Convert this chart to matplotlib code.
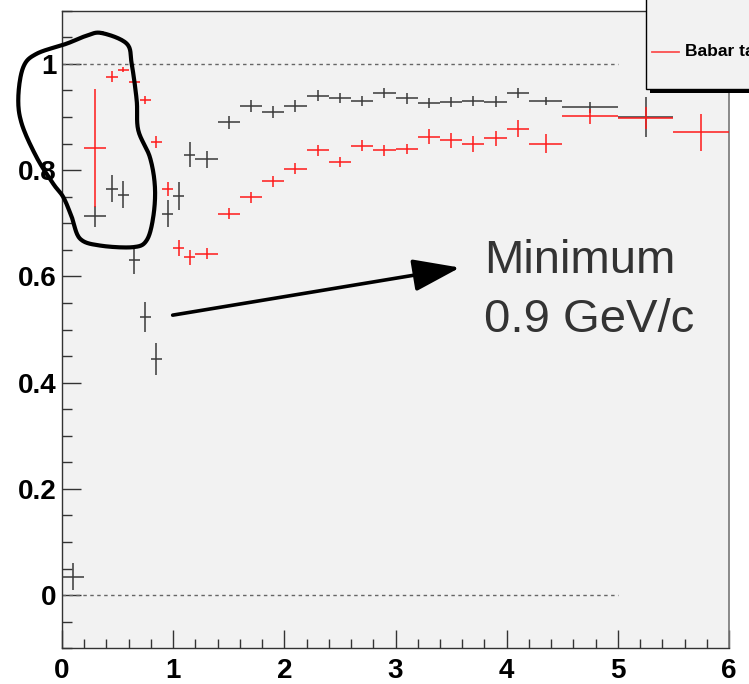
import matplotlib
matplotlib.use('Agg')
import matplotlib.pyplot as plt
import numpy as np
from matplotlib import font_manager
from matplotlib.lines import Line2D
from matplotlib.patches import Rectangle
from matplotlib.ticker import MultipleLocator, FixedLocator, FixedFormatter

# bins (centre, half width)
X_CENTER = [0.1, 0.3, 0.45, 0.55, 0.65, 0.75, 0.85, 0.95, 1.05, 1.15,
            1.3, 1.5, 1.7, 1.9, 2.1, 2.3, 2.5, 2.7, 2.9, 3.1, 3.3, 3.5,
            3.7, 3.9, 4.1, 4.35, 4.75, 5.25, 5.75]
X_HALF = [0.1, 0.1, 0.05, 0.05, 0.05, 0.05, 0.05, 0.05, 0.05, 0.05,
          0.1, 0.1, 0.1, 0.1, 0.1, 0.1, 0.1, 0.1, 0.1, 0.1, 0.1, 0.1,
          0.1, 0.1, 0.1, 0.15, 0.25, 0.25, 0.25]

# black series
BLACK_Y = [0.035, 0.713, 0.765, 0.754, 0.630, 0.524, 0.444, 0.718, 0.751, 0.829,
           0.820, 0.890, 0.921, 0.909, 0.920, 0.940, 0.936, 0.930, 0.945, 0.935,
           0.926, 0.928, 0.930, 0.929, 0.945, 0.930, 0.918, 0.900, np.nan]
BLACK_ERR = [0.025, 0.020, 0.025, 0.025, 0.025, 0.028, 0.030, 0.025, 0.027, 0.023,
             0.016, 0.012, 0.011, 0.011, 0.011, 0.010, 0.010, 0.010, 0.010, 0.010,
             0.010, 0.010, 0.010, 0.010, 0.010, 0.008, 0.010, 0.038, np.nan]

# red series (Babar table)
RED_Y = [np.nan, 0.842, 0.976, 0.989, 0.965, 0.932, 0.853, 0.765, 0.654, 0.636,
         0.643, 0.718, 0.749, 0.779, 0.803, 0.837, 0.815, 0.846, 0.837, 0.840,
         0.863, 0.856, 0.850, 0.860, 0.878, 0.850, 0.901, 0.898, 0.871]
RED_ERR = [np.nan, 0.111, 0.010, 0.005, 0.006, 0.008, 0.011, 0.013, 0.015, 0.014,
           0.010, 0.010, 0.010, 0.010, 0.010, 0.010, 0.010, 0.010, 0.010, 0.010,
           0.014, 0.014, 0.015, 0.014, 0.016, 0.018, 0.014, 0.020, 0.035]

Y_TICKS = [0, 0.2, 0.4, 0.6, 0.8, 1.0]
Y_TICK_LABELS = ['0', '0.2', '0.4', '0.6', '0.8', '1']
X_TICKS = [0, 1, 2, 3, 4, 5, 6]

# hand-drawn loop around the low-momentum points (data coords)
LOOP_X = [0.357, 0.582, 0.627, 0.672, 0.686, 0.791, 0.836, 0.821, 0.762, 0.641,
          0.342, 0.162, 0.087, 0.012, -0.078, -0.228, -0.362, -0.393, -0.348,
          -0.228, 0.042, 0.222]
LOOP_Y = [1.058, 1.038, 1.000, 0.931, 0.875, 0.824, 0.768, 0.712, 0.668, 0.655,
          0.658, 0.671, 0.712, 0.749, 0.774, 0.824, 0.887, 0.937, 0.994,
          1.019, 1.038, 1.053]

FRAME_BG = '#f2f2f2'
INK = '#333333'
RED = '#ff1a1a'


def pick_font(names):
    have = {f.name for f in font_manager.fontManager.ttflist}
    for n in names:
        if n in have:
            return n
    return 'DejaVu Sans'


NARROW = pick_font(['Liberation Sans Narrow', 'Liberation Sans', 'Arial'])
PLAIN = pick_font(['Liberation Sans', 'Arial', 'DejaVu Sans'])


def closed_smooth(xs, ys, n=16):
    p = np.column_stack([xs, ys])
    N = len(p)
    t = np.linspace(0, 1, n, endpoint=False)[:, None]
    segs = []
    for i in range(N):
        p0, p1, p2, p3 = p[i - 1], p[i], p[(i + 1) % N], p[(i + 2) % N]
        segs.append(0.5 * (2 * p1 + (-p0 + p2) * t + (2 * p0 - 5 * p1 + 4 * p2 - p3) * t ** 2
                           + (-p0 + 3 * p1 - 3 * p2 + p3) * t ** 3))
    out = np.vstack(segs + [segs[0][:1]])
    return out[:, 0], out[:, 1]


def draw_series(ax, y, err, color, lw):
    x = np.array(X_CENTER)
    xh = np.array(X_HALF)
    y = np.array(y, dtype=float)
    e = np.array(err, dtype=float)
    ok = np.isfinite(y)
    ax.errorbar(x[ok], y[ok], xerr=xh[ok], yerr=e[ok], fmt='none',
                ecolor=color, elinewidth=lw, capsize=0, zorder=3)


fig = plt.figure(figsize=(7.49, 6.84), dpi=100, facecolor='white')
ax = fig.add_axes([62 / 749, 1 - 648.3 / 684, (729 - 62) / 749, (648.3 - 10.7) / 684])
ax.set_facecolor(FRAME_BG)
ax.set_xlim(0, 6)
ax.set_ylim(-0.1, 1.1)

# reference lines
ax.plot([0, 5], [1, 1], color='#666666', lw=1, ls=(0, (2.5, 2.5)), zorder=2)
ax.plot([0, 5], [0, 0], color='#666666', lw=1, ls=(0, (2.5, 2.5)), zorder=2)

draw_series(ax, BLACK_Y, BLACK_ERR, '#3a3a3a', 1.1)
draw_series(ax, RED_Y, RED_ERR, RED, 1.1)

# axes styling, ROOT look
ax.yaxis.set_major_locator(FixedLocator(Y_TICKS))
ax.yaxis.set_major_formatter(FixedFormatter(Y_TICK_LABELS))
ax.yaxis.set_minor_locator(MultipleLocator(0.05))
ax.xaxis.set_major_locator(FixedLocator(X_TICKS))
ax.xaxis.set_minor_locator(MultipleLocator(0.2))
ax.tick_params(which='both', direction='in', top=False, right=False, color=INK, width=1)
ax.tick_params(axis='y', which='major', length=14, pad=4)
ax.tick_params(axis='y', which='minor', length=7)
ax.tick_params(axis='x', which='major', length=13, pad=7)
ax.tick_params(axis='x', which='minor', length=6.5)
for lab in ax.get_xticklabels() + ax.get_yticklabels():
    lab.set_fontfamily(NARROW)
    lab.set_fontweight('bold')
    lab.set_fontsize(20)
    lab.set_color('black')
for side in ('left', 'bottom', 'top'):
    ax.spines[side].set_color(INK)
    ax.spines[side].set_linewidth(1)
ax.spines['right'].set_color('#777777')
ax.spines['right'].set_linewidth(1.2)

# hand drawn loop
lx, ly = closed_smooth(LOOP_X, LOOP_Y)
ax.plot(lx, ly, color='black', lw=3, clip_on=False, solid_joinstyle='round',
        solid_capstyle='round', zorder=6)

# annotation arrow + text
ax.annotate('', xy=(3.579, 0.6165), xytext=(0.9955, 0.527),
            arrowprops=dict(arrowstyle='-|>,head_length=1.45,head_width=0.5',
                            mutation_scale=20, color='black', lw=2.6,
                            shrinkA=0, shrinkB=0), zorder=6)
ax.text(3.80, 0.607, 'Minimum', fontsize=34, color=INK, family=PLAIN,
        ha='left', va='baseline', zorder=6)
ax.text(3.80, 0.4955, '0.9 GeV/c', fontsize=34, color=INK, family=PLAIN,
        ha='left', va='baseline', zorder=6)

# legend box, cut by the figure edge
shadow = Rectangle((649.7 / 749, 1 - 93 / 684), 0.3, 0.3, transform=fig.transFigure,
                   facecolor='black', edgecolor='none', zorder=8)
box = Rectangle((645.7 / 749, 1 - 89 / 684), 0.3, 0.3, transform=fig.transFigure,
                facecolor=FRAME_BG, edgecolor='black', lw=1, zorder=9)
fig.add_artist(shadow)
fig.add_artist(box)
fig.add_artist(Line2D([652 / 749, 679 / 749], [1 - 52 / 684] * 2, transform=fig.transFigure,
                      color=RED, lw=1.3, alpha=0.75, zorder=10))
fig.text(685 / 749, 1 - 52 / 684, 'Babar table', fontsize=12.5, fontweight='bold',
         family=NARROW, ha='left', va='center', color='black', zorder=10)

fig.savefig('out.png', dpi=100, facecolor='white')
